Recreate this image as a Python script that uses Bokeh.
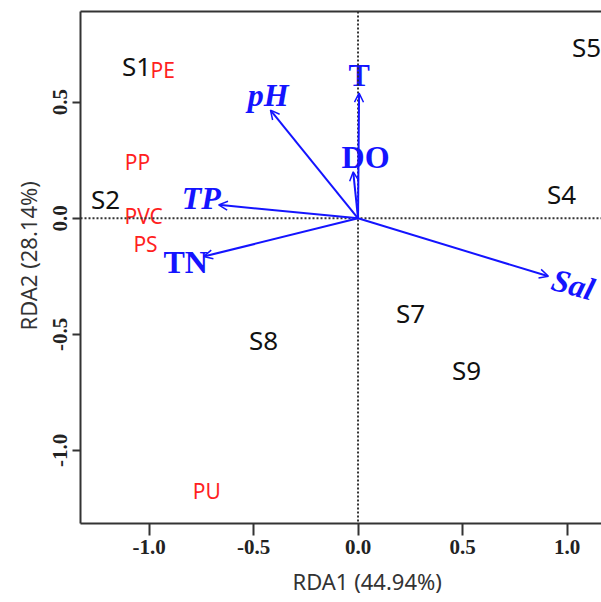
from bokeh.plotting import figure
from bokeh.models import (ColumnDataSource, Arrow, OpenHead, Span, LinearAxis,
                          FixedTicker, NumeralTickFormatter, Range1d, Title)
from bokeh.core.properties import value
from bokeh.embed import file_html
from bokeh.resources import INLINE

# ---- data ----
site_names = ["S1", "S2", "S4", "S5", "S7", "S8", "S9"]
site_x = [-1.06, -1.208, 0.974, 1.093, 0.251, -0.452, 0.519]
site_y = [0.655, 0.085, 0.105, 0.74, -0.41, -0.525, -0.655]

plastic_names = ["PE", "PP", "PVC", "PS", "PU"]
plastic_x = [-0.935, -1.055, -1.026, -1.017, -0.724]
plastic_y = [0.637, 0.243, 0.011, -0.109, -1.174]

env_names = ["T", "pH", "DO", "TP", "TN", "Sal"]
env_x = [0.005, -0.419, -0.023, -0.667, -0.739, 0.911]
env_y = [0.539, 0.466, 0.200, 0.058, -0.165, -0.250]
env_label_x = [0.005, -0.43, 0.036, -0.75, -0.825, 1.03]
env_label_y = [0.616, 0.53, 0.264, 0.088, -0.187, -0.285]

ticks = [-1.0, -0.5, 0.0, 0.5, 1.0]
x_title = "RDA1 (44.94%)"
y_title = "RDA2 (28.14%)"

# ---- figure ----
AXC = "#333333"
BLUE = "#1414ff"
RED = "#ff1f1f"

p = figure(width=601, height=602, output_backend="svg", toolbar_location=None,
           x_range=Range1d(-1.328, 1.165), y_range=Range1d(-1.315, 0.891),
           min_border_left=80, min_border_right=0, min_border_top=11,
           min_border_bottom=77)
p.outline_line_color = None
p.grid.visible = False
p.background_fill_color = "white"

for ax in (p.xaxis[0], p.yaxis[0]):
    ax.ticker = FixedTicker(ticks=ticks)
    ax.formatter = NumeralTickFormatter(format="0.0")
    ax.axis_line_color = AXC
    ax.axis_line_width = 2
    ax.major_tick_line_color = AXC
    ax.major_tick_line_width = 2
    ax.major_tick_in = 0
    ax.minor_tick_line_color = None
    ax.major_label_text_font = "Liberation Serif"
    ax.major_label_text_font_style = "bold"
    ax.major_label_text_font_size = "21px"
    ax.major_label_text_color = "#222222"

p.xaxis[0].major_tick_out = 12
p.xaxis[0].major_label_standoff = 4
p.yaxis[0].major_tick_out = 8
p.yaxis[0].major_label_standoff = 5
p.yaxis[0].major_label_orientation = "vertical"

top = LinearAxis(ticker=FixedTicker(ticks=[]), axis_line_color=AXC, axis_line_width=2,
                 major_tick_line_color=None, minor_tick_line_color=None,
                 major_label_text_font_size="0px", major_label_standoff=0)
p.add_layout(top, "above")

# axis titles placed off-centre as in the reference
xt = Title(text=x_title, align="left", offset=212, standoff=14,
           text_font="Noto Sans", text_font_style="normal", text_font_size="22px",
           text_color="#333333")
p.add_layout(xt, "below")
yt = Title(text=y_title, align="left", offset=193, standoff=15,
           text_font="Noto Sans", text_font_style="normal", text_font_size="22px",
           text_color="#333333")
p.add_layout(yt, "left")

p.add_layout(Span(location=0, dimension="width", line_color=AXC, line_width=2,
                  line_dash="2 2"))
p.add_layout(Span(location=0, dimension="height", line_color=AXC, line_width=2,
                  line_dash="2 2"))

# arrows
arr_src = ColumnDataSource(dict(x0=[0.0] * len(env_x), y0=[0.0] * len(env_y),
                                x1=env_x, y1=env_y))
p.add_layout(Arrow(x_start="x0", y_start="y0", x_end="x1", y_end="y1", source=arr_src,
                   line_color=BLUE, line_width=2,
                   end=OpenHead(size=9, line_color=BLUE, line_width=1.5)))

italic = {"pH", "TP", "Sal"}
ang = {"Sal": -0.27}
for it, style in ((True, "bold italic"), (False, "bold")):
    idx = [i for i, n in enumerate(env_names) if (n in italic) == it]
    src = ColumnDataSource(dict(x=[env_label_x[i] for i in idx],
                                y=[env_label_y[i] for i in idx],
                                t=[env_names[i] for i in idx],
                                a=[ang.get(env_names[i], 0.0) for i in idx]))
    p.text("x", "y", text="t", angle="a", source=src, text_color=BLUE,
           text_font=value("Liberation Serif"), text_font_style=style,
           text_font_size="32px", text_align="center", text_baseline="middle")

site_src = ColumnDataSource(dict(x=site_x, y=site_y, t=site_names))
p.text("x", "y", text="t", source=site_src, text_color="#111111",
       text_font=value("Noto Sans"), text_font_size="26px",
       text_align="center", text_baseline="middle")

pl_src = ColumnDataSource(dict(x=plastic_x, y=plastic_y, t=plastic_names))
p.text("x", "y", text="t", source=pl_src, text_color=RED,
       text_font=value("Noto Sans"), text_font_size="21px",
       text_align="center", text_baseline="middle")

open("out.html", "w").write(file_html(p, INLINE))
